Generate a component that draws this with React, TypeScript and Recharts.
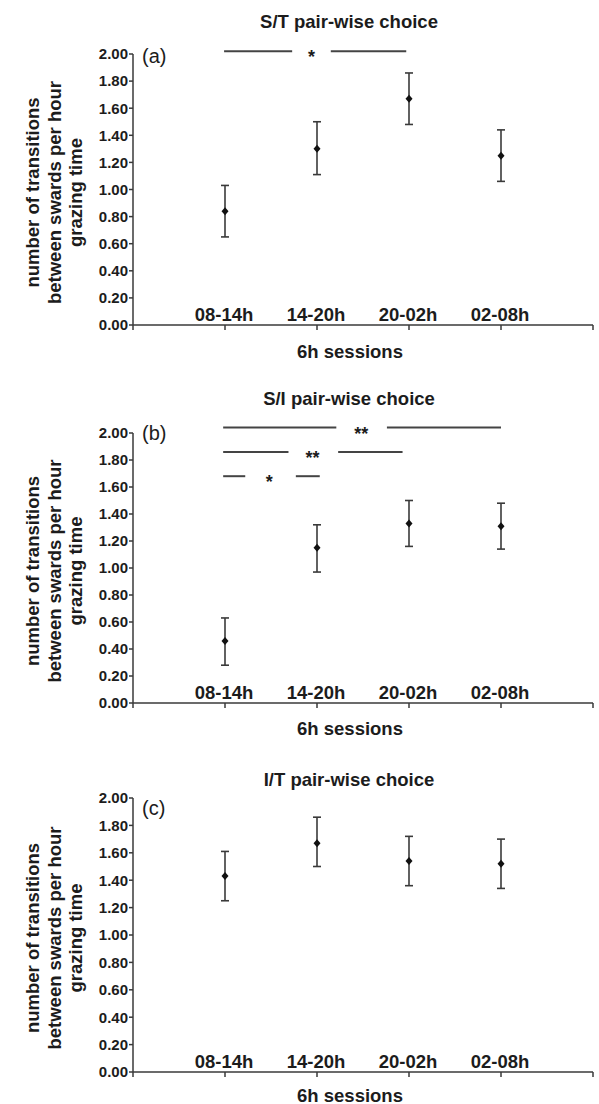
import * as React from "react"
import {
    ErrorBar,
    ReferenceDot,
    ReferenceLine,
    Scatter,
    ScatterChart,
    XAxis,
    YAxis,
} from "recharts"

const sessions = ["08-14h", "14-20h", "20-02h", "02-08h"]
const yTicks = [0, 0.2, 0.4, 0.6, 0.8, 1.0, 1.2, 1.4, 1.6, 1.8, 2.0]
const xTicks = [0, 1, 2, 3, 4, 5]

// S/T pair-wise choice
const stMean = [0.84, 1.3, 1.67, 1.25]
const stLow = [0.65, 1.11, 1.48, 1.06]
const stHigh = [1.03, 1.5, 1.86, 1.44]

// S/I pair-wise choice
const siMean = [0.46, 1.15, 1.33, 1.31]
const siLow = [0.28, 0.97, 1.16, 1.14]
const siHigh = [0.63, 1.32, 1.5, 1.48]

// I/T pair-wise choice
const itMean = [1.43, 1.67, 1.54, 1.52]
const itLow = [1.25, 1.5, 1.36, 1.34]
const itHigh = [1.61, 1.86, 1.72, 1.7]

// significance bars, in axis units
const stSig = [
    { y: 2.02, from: 0.99, gapFrom: 1.73, gapTo: 2.15, to: 2.97, starX: 1.94, stars: "*" },
]
const siSig = [
    { y: 2.04, from: 0.98, gapFrom: 2.21, gapTo: 2.76, to: 4.0, starX: 2.48, stars: "**" },
    { y: 1.86, from: 0.98, gapFrom: 1.69, gapTo: 2.23, to: 2.93, starX: 1.95, stars: "**" },
    { y: 1.68, from: 0.98, gapFrom: 1.22, gapTo: 1.77, to: 2.03, starX: 1.48, stars: "*" },
]
const itSig: typeof stSig = []

const yLabelLines = ["number of transitions", "between swards per hour", "grazing time"]

const FONT = "'Liberation Sans', Arial, Helvetica, sans-serif"
const INK = "#1c1c1c"
const LINE = "#3a3a3a"

const W = 599
const PLOT_LEFT = 133
const PLOT_RIGHT = 593
const PAD_TOP = 40
const X_AXIS_H = 10

type Sig = (typeof stSig)[number]

function Diamond(p: any) {
    const { cx, cy } = p
    return (
        <polygon
            points={`${cx},${cy - 4} ${cx + 3.5},${cy} ${cx},${cy + 4} ${cx - 3.5},${cy}`}
            fill="#111"
        />
    )
}

function SessionTick(p: any) {
    const { x, y, payload } = p
    const label = sessions[payload.value - 1]
    if (!label) return null
    return (
        <text
            x={x - 1}
            y={y - 9}
            textAnchor="middle"
            fontFamily={FONT}
            fontWeight="bold"
            fontSize={18.5}
            fill={INK}
        >
            {label}
        </text>
    )
}

interface PanelProps {
    title: string
    letter: string
    mean: number[]
    low: number[]
    high: number[]
    sig: Sig[]
    top: number
    bottom: number
    titleY: number
    letterY: number
    xLabelY: number
}

function Panel({ title, letter, mean, low, high, sig, top, bottom, titleY, letterY, xLabelY }: PanelProps) {
    const data = mean.map((m, i) => ({
        x: i + 1,
        y: m,
        err: [m - low[i], high[i] - m],
    }))
    const plotH = bottom - top
    const cy = (top + bottom) / 2 + 3

    return (
        <>
            <div style={{ position: "absolute", left: 0, top: top - PAD_TOP }}>
                <ScatterChart
                    width={W}
                    height={PAD_TOP + plotH + X_AXIS_H}
                    margin={{ top: PAD_TOP, right: W - PLOT_RIGHT, bottom: 0, left: PLOT_LEFT - 70 }}
                >
                    <XAxis
                        type="number"
                        dataKey="x"
                        domain={[0, 5]}
                        ticks={xTicks}
                        height={X_AXIS_H}
                        tickSize={5}
                        tickMargin={0}
                        tick={<SessionTick />}
                        axisLine={{ stroke: LINE, strokeWidth: 1.5 }}
                        tickLine={{ stroke: LINE, strokeWidth: 1.5 }}
                        interval={0}
                    />
                    <YAxis
                        type="number"
                        dataKey="y"
                        width={70}
                        domain={[0, 2]}
                        ticks={yTicks}
                        interval={0}
                        tickSize={4}
                        tickMargin={1}
                        tickFormatter={(v: number) => v.toFixed(2)}
                        tick={{ fontFamily: FONT, fontWeight: "bold", fontSize: 15, fill: INK }}
                        axisLine={{ stroke: LINE, strokeWidth: 1.5 }}
                        tickLine={{ stroke: LINE, strokeWidth: 1.5 }}
                    />
                    {sig.map((s, i) => (
                        <ReferenceLine
                            key={`a${i}`}
                            segment={[{ x: s.from, y: s.y }, { x: s.gapFrom, y: s.y }]}
                            stroke="#444"
                            strokeWidth={2}
                            ifOverflow="visible"
                        />
                    ))}
                    {sig.map((s, i) => (
                        <ReferenceLine
                            key={`b${i}`}
                            segment={[{ x: s.gapTo, y: s.y }, { x: s.to, y: s.y }]}
                            stroke="#444"
                            strokeWidth={2}
                            ifOverflow="visible"
                        />
                    ))}
                    {sig.map((s, i) => (
                        <ReferenceDot
                            key={`s${i}`}
                            x={s.starX}
                            y={s.y}
                            r={0}
                            ifOverflow="visible"
                            shape={(p: any) => (
                                <text
                                    x={p.cx}
                                    y={p.cy + 12}
                                    textAnchor="middle"
                                    fontFamily={FONT}
                                    fontWeight="bold"
                                    fontSize={18}
                                    fill={INK}
                                >
                                    {s.stars}
                                </text>
                            )}
                        />
                    ))}
                    <Scatter data={data} shape={<Diamond />} isAnimationActive={false}>
                        <ErrorBar
                            dataKey="err"
                            direction="y"
                            width={4}
                            stroke={LINE}
                            strokeWidth={1.6}
                            isAnimationActive={false}
                        />
                    </Scatter>
                </ScatterChart>
            </div>
            <svg
                width={W}
                height={1104}
                style={{ position: "absolute", left: 0, top: 0, pointerEvents: "none" }}
            >
                <text
                    x={349}
                    y={titleY + 6.5}
                    textAnchor="middle"
                    fontFamily={FONT}
                    fontWeight="bold"
                    fontSize={18.5}
                    fill={INK}
                >
                    {title}
                </text>
                <text x={142} y={letterY + 7} fontFamily={FONT} fontSize={20} fill={INK}>
                    {letter}
                </text>
                <text
                    x={350}
                    y={xLabelY + 6.5}
                    textAnchor="middle"
                    fontFamily={FONT}
                    fontWeight="bold"
                    fontSize={18.5}
                    fill={INK}
                >
                    6h sessions
                </text>
                {yLabelLines.map((t, i) => (
                    <text
                        key={t}
                        transform={`translate(${39 + i * 21.5},${cy}) rotate(-90)`}
                        textAnchor="middle"
                        fontFamily={FONT}
                        fontWeight="bold"
                        fontSize={18.5}
                        fill={INK}
                    >
                        {t}
                    </text>
                ))}
            </svg>
        </>
    )
}

export default function App() {
    return (
        <div
            style={{
                position: "absolute",
                left: 0,
                top: 0,
                width: W,
                height: 1104,
                background: "#fff",
                overflow: "hidden",
            }}
        >
            <Panel
                title="S/T pair-wise choice"
                letter="(a)"
                mean={stMean}
                low={stLow}
                high={stHigh}
                sig={stSig}
                top={54}
                bottom={325}
                titleY={21}
                letterY={56}
                xLabelY={351}
            />
            <Panel
                title="S/I pair-wise choice"
                letter="(b)"
                mean={siMean}
                low={siLow}
                high={siHigh}
                sig={siSig}
                top={433}
                bottom={703}
                titleY={398}
                letterY={433}
                xLabelY={728}
            />
            <Panel
                title="I/T pair-wise choice"
                letter="(c)"
                mean={itMean}
                low={itLow}
                high={itHigh}
                sig={itSig}
                top={798}
                bottom={1072}
                titleY={779}
                letterY={808}
                xLabelY={1095}
            />
        </div>
    )
}
